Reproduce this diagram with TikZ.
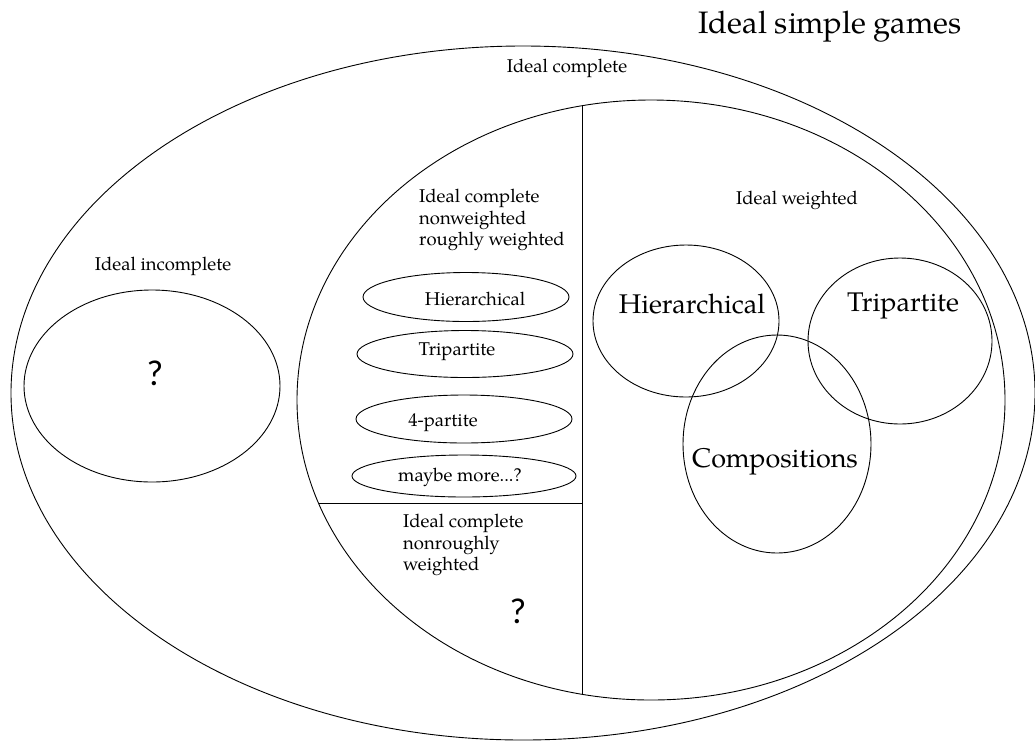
\documentclass[tikz,border=0pt]{standalone}
\usepackage{fontspec}
\setmainfont{TeX Gyre Pagella}
\newfontfamily\qfont{Carlito}
\begin{document}
\begin{tikzpicture}[x=1pt,y=-1pt,
  ring/.style={draw=black, line width=0.9pt},
  lab/.style={font=\fontsize{18.5}{21.5}\selectfont, inner sep=0pt, align=left},
  big/.style={font=\fontsize{27}{32}\selectfont, inner sep=0pt},
  ttl/.style={font=\fontsize{31}{36}\selectfont, inner sep=0pt},
  qm/.style={font=\qfont\fontsize{36}{40}\selectfont, inner sep=0pt}]
\useasboundingbox (0,0) rectangle (1035,740);
\fill[white] (0,0) rectangle (1035,740);

% outer and inner sets
\draw[ring] (523,393) ellipse [x radius=512pt, y radius=347pt];
\draw[ring] (651,400) ellipse [x radius=354pt, y radius=300pt];
% left set
\draw[ring] (152,386) ellipse [x radius=128pt, y radius=96pt];
% dividers in inner set
\coordinate (vtop) at (582,{400-300*sqrt(1-(69/354)^2)});
\coordinate (vbot) at (582,{400+300*sqrt(1-(69/354)^2)});
\coordinate (hl) at ({651-354*sqrt(1-(103/300)^2)},503);
\coordinate (hr) at (582,503);
\draw[ring] (vtop) -- (vbot);
\draw[ring] (hl) -- (hr);
% small ellipses
\draw[ring] (466,297) ellipse [x radius=103pt, y radius=24.5pt];
\draw[ring] (465,354) ellipse [x radius=108pt, y radius=23.5pt];
\draw[ring] (464,419) ellipse [x radius=108pt, y radius=24pt];
\draw[ring] (464,476) ellipse [x radius=112pt, y radius=21pt];
% right circles
\draw[ring] (686,321) ellipse [x radius=93pt, y radius=76pt];
\draw[ring] (900,341) ellipse [x radius=92pt, y radius=83pt];
\draw[ring] (777,444) ellipse [x radius=94pt, y radius=109pt];

% labels
\node[ttl] (title) at (830,27) {Ideal simple games};
\node[lab] (complete) at (567,68) {Ideal complete};
\node[lab] (incomplete) at (163,266) {Ideal incomplete};
\node[qm] (q1) at (155,373) {?};
\node[lab, anchor=north west] (rough) at (419,189) {Ideal complete\\nonweighted\\roughly weighted};
\node[lab] (h1) at (475,299) {Hierarchical};
\node[lab] (t1) at (457,352) {Tripartite};
\node[lab] (f1) at (443,423) {4-partite};
\node[lab] (m1) at (460,477) {maybe more...?};
\node[lab, anchor=north west] (nonrough) at (403,514) {Ideal complete\\nonroughly\\weighted};
\node[qm] (q2) at (518,611) {?};
\node[lab] (weighted) at (797,200) {Ideal weighted};
\node[big] (h2) at (692,304) {Hierarchical};
\node[big] (t2) at (903,306) {Tripartite};
\node[big] (c2) at (775,462) {Compositions};
\end{tikzpicture}
\end{document}
